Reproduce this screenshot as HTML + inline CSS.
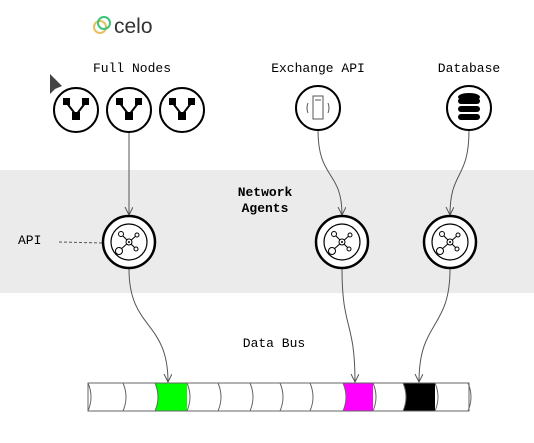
<!DOCTYPE html>
<html><head><style>body{margin:0;background:#fff}svg{display:block}</style></head><body>
<svg width="534" height="443" viewBox="0 0 534 443" xmlns="http://www.w3.org/2000/svg" font-family="Liberation Mono, monospace" font-size="13">
<defs><marker id="a" markerWidth="10" markerHeight="10" refX="8" refY="4" orient="auto" markerUnits="userSpaceOnUse"><path d="M0,0 L8,4 L0,8" fill="none" stroke="#555" stroke-width="1"/></marker>
<g id="fn"><circle r="22" fill="#fff" stroke="#000" stroke-width="2"/><path d="M-10,-8 L0,5 L10,-8" stroke="#000" stroke-width="2" fill="none"/><rect x="-13" y="-12" width="7" height="7"/><rect x="6" y="-12" width="7" height="7"/><rect x="-4" y="2" width="8" height="8"/></g>
<g id="ag"><circle r="26" fill="#fff" stroke="#000" stroke-width="2.5"/><circle r="18" fill="none" stroke="#000" stroke-width="1.2"/><path d="M0,0 L-8,-8 M0,0 L8,-7 M0,0 L7,7 M0,0 L-9,8" stroke="#000"/><circle r="3" fill="#fff" stroke="#000"/><circle r="1" fill="#000"/><circle cx="-8" cy="-8" r="2.5" fill="#fff" stroke="#000"/><circle cx="8" cy="-7" r="2" fill="#fff" stroke="#000"/><circle cx="7" cy="7" r="2" fill="#fff" stroke="#000"/><circle cx="-10" cy="9" r="3.5" fill="#fff" stroke="#000"/></g></defs>
<rect x="0" y="170" width="534" height="123" fill="#ebebeb"/>
<circle cx="100" cy="27" r="6" fill="none" stroke="#e8c060" stroke-width="2"/><circle cx="104" cy="23" r="6" fill="none" stroke="#3cc47a" stroke-width="2"/>
<text x="114" y="33" font-family="Liberation Sans, sans-serif" font-size="21" fill="#333">celo</text>
<path d="M50,74 L50,94 L55,89 L62,86 Z" fill="#444"/>
<g text-anchor="middle"><text x="132" y="72">Full Nodes</text><text x="318" y="72">Exchange API</text><text x="469" y="72">Database</text>
<text x="265" y="196" font-weight="bold">Network</text><text x="265" y="212" font-weight="bold">Agents</text><text x="274" y="347">Data Bus</text></g>
<text x="18" y="244">API</text>
<path d="M59,242 L103,243" stroke="#555" stroke-dasharray="3,2"/>
<g fill="none" stroke="#555" stroke-width="1">
<path d="M129,132 L129,215" marker-end="url(#a)"/>
<path d="M318,130 C318,180 342,170 342,215" marker-end="url(#a)"/>
<path d="M469,130 C469,180 450,170 450,215" marker-end="url(#a)"/>
<path d="M129,269 C129,330 168,320 168,382" marker-end="url(#a)"/>
<path d="M342,269 C342,330 355,320 355,382" marker-end="url(#a)"/>
<path d="M450,269 C450,330 419,320 419,382" marker-end="url(#a)"/>
</g>
<use href="#fn" x="76" y="110"/><use href="#fn" x="129" y="110"/><use href="#fn" x="182" y="110"/>
<circle cx="318" cy="108" r="22" fill="#fff" stroke="#000" stroke-width="2"/>
<rect x="313" y="96" width="10" height="23" fill="#fff" stroke="#555"/><path d="M315,100h6" stroke="#555"/>
<path d="M308,103 q-2,5 0,10 M328,103 q2,5 0,10" stroke="#555" fill="none"/>
<circle cx="469" cy="108" r="22" fill="#fff" stroke="#000" stroke-width="2"/>
<g fill="#000"><ellipse cx="469" cy="97" rx="11" ry="4"/><rect x="458" y="98" width="22" height="6" rx="3"/><rect x="458" y="106" width="22" height="6" rx="3"/><rect x="458" y="114" width="22" height="6" rx="3"/></g>
<use href="#ag" x="129" y="242"/><use href="#ag" x="342" y="242"/><use href="#ag" x="450" y="242"/>
<g stroke="#666" stroke-width="1">
<rect x="88" y="383" width="381" height="28" fill="#fff"/>
<rect x="155" y="383" width="32" height="28" fill="#00ff00" stroke="none"/>
<rect x="343" y="383" width="30" height="28" fill="#ff00ff" stroke="none"/>
<rect x="403" y="383" width="32" height="28" fill="#000" stroke="none"/>
<path d="M155,383 q6,14 0,28 M343,383 q6,14 0,28 M403,383 q6,14 0,28" fill="#fff"/>
<path d="M88,383h381M88,411h381" fill="none"/>
<g fill="none"><path d="M88,383 q6,14 0,28"/><path d="M123,383 q6,14 0,28"/><path d="M187,383 q6,14 0,28"/><path d="M218,383 q6,14 0,28"/><path d="M250,383 q6,14 0,28"/><path d="M280,383 q6,14 0,28"/><path d="M310,383 q6,14 0,28"/><path d="M373,383 q6,14 0,28"/><path d="M435,383 q6,14 0,28"/><path d="M468,383 q6,14 0,28"/></g>
</g>
</svg>
</body></html>
